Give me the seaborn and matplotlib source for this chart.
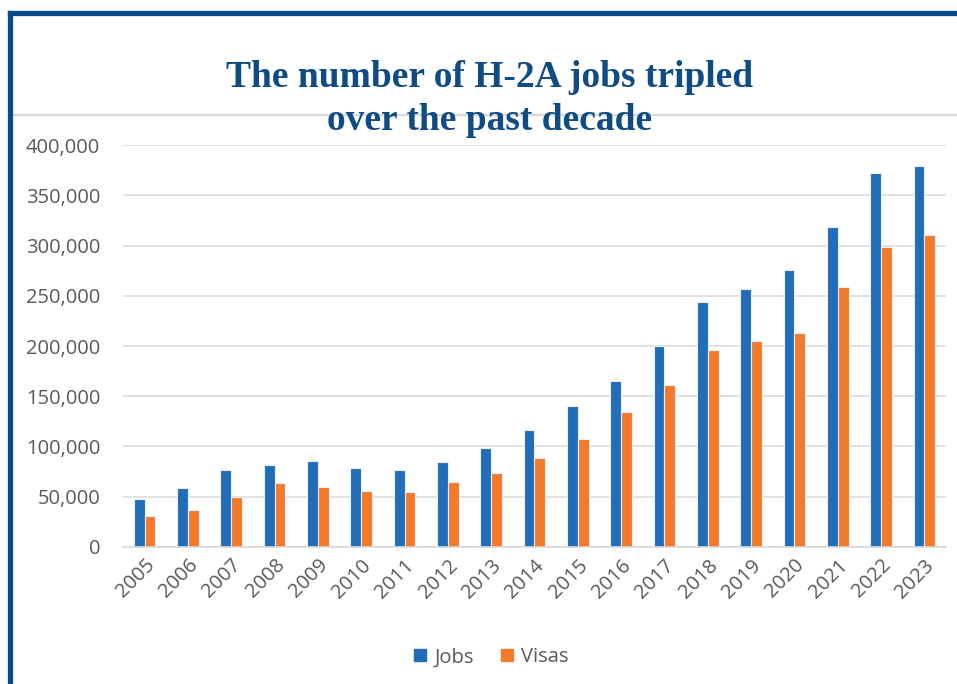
import matplotlib
matplotlib.use("Agg")
import matplotlib.pyplot as plt
import seaborn as sns
import pandas as pd
from matplotlib.lines import Line2D
from matplotlib.ticker import FuncFormatter

# ---------------------------------------------------
# Data
# ---------------------------------------------------

years = [str(y) for y in range(2005, 2024)]

jobs = [48000, 59000, 76300, 81600, 85600, 78600, 76900, 84600, 98500,
        116400, 140000, 165200, 200300, 243400, 256700, 275600, 318000,
        372000, 379400]

visas = [31000, 36800, 50000, 64000, 59700, 55400, 54400, 64700, 73600,
         88900, 107500, 134000, 161200, 196000, 204700, 213000, 258400,
         299000, 310400]

series = ["Jobs", "Visas"]
colors = ["#216DB7", "#F47A2B"]

df = pd.DataFrame({
    "Year": years * 2,
    "Count": jobs + visas,
    "Series": ["Jobs"] * len(years) + ["Visas"] * len(years),
})

# ---------------------------------------------------
# Figure
# ---------------------------------------------------

sns.set_style("white")
plt.rcParams["font.family"] = ["Open Sans", "DejaVu Sans"]

fig = plt.figure(figsize=(9.57, 6.84), dpi=100)
ax = fig.add_axes([0.1285, 0.2003, 0.86, 0.5877])

sns.barplot(
    data=df,
    x="Year",
    y="Count",
    hue="Series",
    hue_order=series,
    palette=colors,
    saturation=1,
    width=0.5,
    edgecolor="#E8EEF7",
    linewidth=0.8,
    gap=0.0,
    legend=False,
    ax=ax,
)

ax.set_xlim(-0.5, len(years) - 0.5)
ax.set_ylim(0, 400000)
ax.set_yticks(range(0, 400001, 50000))
ax.yaxis.set_major_formatter(FuncFormatter(lambda v, p: f"{int(v):,}"))
ax.grid(axis="y", color="#D9D9D9", linewidth=1.1)
ax.set_axisbelow(True)

for side in ["top", "right", "left"]:
    ax.spines[side].set_visible(False)
ax.spines["bottom"].set_color("#D9D9D9")
ax.spines["bottom"].set_linewidth(1.2)

ax.tick_params(axis="both", length=0, labelsize=14.5, labelcolor="#595959")
ax.tick_params(axis="y", pad=16.5)
ax.tick_params(axis="x", pad=6)
plt.setp(ax.get_xticklabels(), rotation=45, ha="right",
         rotation_mode="anchor")
ax.set_xlabel("")
ax.set_ylabel("")

# ---------------------------------------------------
# Legend
# ---------------------------------------------------

handles = [
    Line2D([0], [0], marker="s", linestyle="", markersize=9,
           markerfacecolor=c, markeredgecolor=c)
    for c in colors
]
fig.legend(
    handles, series,
    loc="center", bbox_to_anchor=(0.513, 0.039),
    ncol=2, frameon=False, fontsize=14.5,
    handlelength=0.7, handletextpad=0.35, columnspacing=1.3,
    labelcolor="#595959",
)

# ---------------------------------------------------
# Title and frame
# ---------------------------------------------------

fig.add_artist(Line2D([12 / 957, 1], [1 - 115 / 684, 1 - 115 / 684],
                      color="#DADADA", linewidth=1.6,
                      transform=fig.transFigure))

fig.text(
    0.512, 1 - 99 / 684,
    "The number of H-2A jobs tripled\nover the past decade",
    ha="center", va="center",
    fontsize=27, fontweight="bold",
    family="Liberation Serif", color="#0F4C86",
    linespacing=1.32,
)

fig.add_artist(Line2D([9.5 / 957, 9.5 / 957], [0, 1 - 12.5 / 684],
                      color="#0B4A86", linewidth=3.8,
                      solid_capstyle="projecting",
                      transform=fig.transFigure))
fig.add_artist(Line2D([9.5 / 957, 1], [1 - 12.5 / 684, 1 - 12.5 / 684],
                      color="#0B4A86", linewidth=3.8,
                      solid_capstyle="projecting",
                      transform=fig.transFigure))

fig.savefig("out.png", dpi=100)
